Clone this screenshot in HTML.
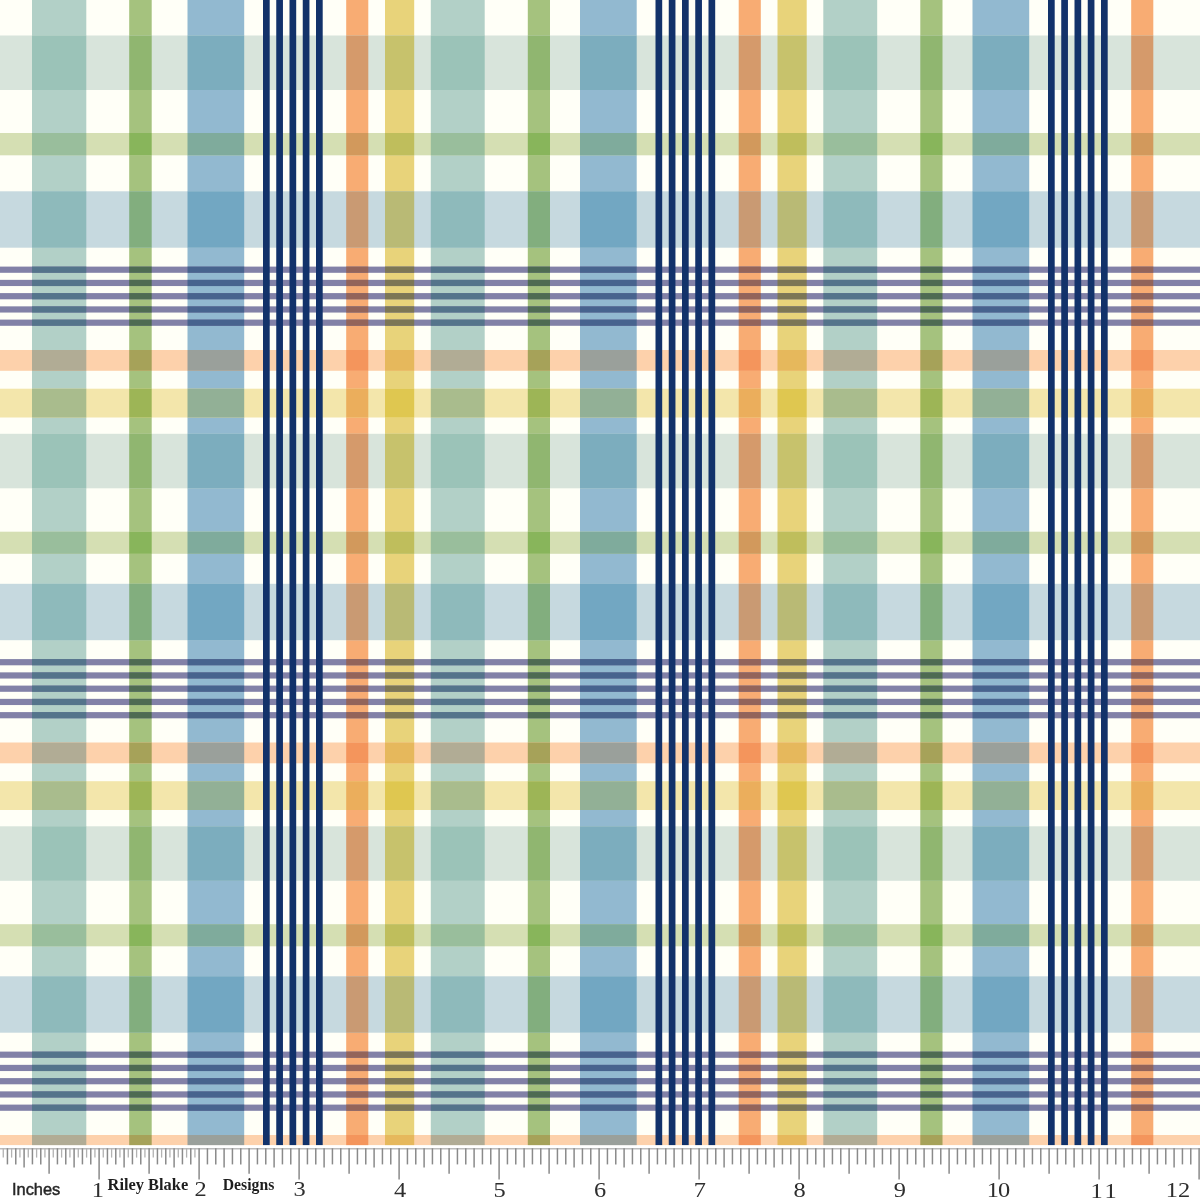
<!DOCTYPE html>
<html><head><meta charset="utf-8"><title>Riley Blake Designs plaid</title>
<style>
html,body{margin:0;padding:0;background:#fffff7;}
#f{position:relative;width:1200px;height:1200px;overflow:hidden;background:#fffff7;}
#f svg{position:absolute;left:0;top:0;display:block;}
</style></head><body><div id="f">
<svg width="1200" height="1200" viewBox="0 0 1200 1200">
<g id="warp">
<rect x="32.00" y="0" width="54.30" height="1145.3" fill="#B2D0C7"/>
<rect x="129.20" y="0" width="22.50" height="1145.3" fill="#A5C27E"/>
<rect x="187.50" y="0" width="56.70" height="1145.3" fill="#92B9D0"/>
<rect x="346.20" y="0" width="22.10" height="1145.3" fill="#F8AC73"/>
<rect x="385.00" y="0" width="29.20" height="1145.3" fill="#E8D37A"/>
<rect x="430.80" y="0" width="53.90" height="1145.3" fill="#B2D0C7"/>
<rect x="527.80" y="0" width="22.20" height="1145.3" fill="#A5C27E"/>
<rect x="580.00" y="0" width="56.70" height="1145.3" fill="#92B9D0"/>
<rect x="738.70" y="0" width="22.10" height="1145.3" fill="#F8AC73"/>
<rect x="777.50" y="0" width="29.20" height="1145.3" fill="#E8D37A"/>
<rect x="823.30" y="0" width="53.90" height="1145.3" fill="#B2D0C7"/>
<rect x="920.30" y="0" width="22.20" height="1145.3" fill="#A5C27E"/>
<rect x="972.50" y="0" width="56.70" height="1145.3" fill="#92B9D0"/>
<rect x="1131.20" y="0" width="22.10" height="1145.3" fill="#F8AC73"/>
</g>
<g id="weft">
<rect x="0" y="35.50" width="1200" height="54.50" fill="#D8E4DB"/><rect x="32.00" y="35.50" width="54.30" height="54.50" fill="#9BC3B8"/><rect x="129.20" y="35.50" width="22.50" height="54.50" fill="#90B670"/><rect x="187.50" y="35.50" width="56.70" height="54.50" fill="#7CADBE"/><rect x="346.20" y="35.50" width="22.10" height="54.50" fill="#D59A6B"/><rect x="385.00" y="35.50" width="29.20" height="54.50" fill="#C7C26C"/><rect x="430.80" y="35.50" width="53.90" height="54.50" fill="#9BC3B8"/><rect x="527.80" y="35.50" width="22.20" height="54.50" fill="#90B670"/><rect x="580.00" y="35.50" width="56.70" height="54.50" fill="#7CADBE"/><rect x="738.70" y="35.50" width="22.10" height="54.50" fill="#D59A6B"/><rect x="777.50" y="35.50" width="29.20" height="54.50" fill="#C7C26C"/><rect x="823.30" y="35.50" width="53.90" height="54.50" fill="#9BC3B8"/><rect x="920.30" y="35.50" width="22.20" height="54.50" fill="#90B670"/><rect x="972.50" y="35.50" width="56.70" height="54.50" fill="#7CADBE"/><rect x="1131.20" y="35.50" width="22.10" height="54.50" fill="#D59A6B"/>
<rect x="0" y="133.00" width="1200" height="22.30" fill="#D5DFB3"/><rect x="32.00" y="133.00" width="54.30" height="22.30" fill="#99BE9C"/><rect x="129.20" y="133.00" width="22.50" height="22.30" fill="#88B55B"/><rect x="187.50" y="133.00" width="56.70" height="22.30" fill="#7FAB9C"/><rect x="346.20" y="133.00" width="22.10" height="22.30" fill="#D2995C"/><rect x="385.00" y="133.00" width="29.20" height="22.30" fill="#BFBE5C"/><rect x="430.80" y="133.00" width="53.90" height="22.30" fill="#99BE9C"/><rect x="527.80" y="133.00" width="22.20" height="22.30" fill="#88B55B"/><rect x="580.00" y="133.00" width="56.70" height="22.30" fill="#7FAB9C"/><rect x="738.70" y="133.00" width="22.10" height="22.30" fill="#D2995C"/><rect x="777.50" y="133.00" width="29.20" height="22.30" fill="#BFBE5C"/><rect x="823.30" y="133.00" width="53.90" height="22.30" fill="#99BE9C"/><rect x="920.30" y="133.00" width="22.20" height="22.30" fill="#88B55B"/><rect x="972.50" y="133.00" width="56.70" height="22.30" fill="#7FAB9C"/><rect x="1131.20" y="133.00" width="22.10" height="22.30" fill="#D2995C"/>
<rect x="0" y="191.30" width="1200" height="56.40" fill="#C6D9DF"/><rect x="32.00" y="191.30" width="54.30" height="56.40" fill="#8EBABB"/><rect x="129.20" y="191.30" width="22.50" height="56.40" fill="#82AE7E"/><rect x="187.50" y="191.30" width="56.70" height="56.40" fill="#72A7C2"/><rect x="346.20" y="191.30" width="22.10" height="56.40" fill="#C99A73"/><rect x="385.00" y="191.30" width="29.20" height="56.40" fill="#B9BA75"/><rect x="430.80" y="191.30" width="53.90" height="56.40" fill="#8EBABB"/><rect x="527.80" y="191.30" width="22.20" height="56.40" fill="#82AE7E"/><rect x="580.00" y="191.30" width="56.70" height="56.40" fill="#72A7C2"/><rect x="738.70" y="191.30" width="22.10" height="56.40" fill="#C99A73"/><rect x="777.50" y="191.30" width="29.20" height="56.40" fill="#B9BA75"/><rect x="823.30" y="191.30" width="53.90" height="56.40" fill="#8EBABB"/><rect x="920.30" y="191.30" width="22.20" height="56.40" fill="#82AE7E"/><rect x="972.50" y="191.30" width="56.70" height="56.40" fill="#72A7C2"/><rect x="1131.20" y="191.30" width="22.10" height="56.40" fill="#C99A73"/>
<rect x="0" y="266.60" width="1200" height="6.20" fill="#8281A7"/><rect x="32.00" y="266.60" width="54.30" height="6.20" fill="#54748B"/><rect x="129.20" y="266.60" width="22.50" height="6.20" fill="#4E6B52"/><rect x="187.50" y="266.60" width="56.70" height="6.20" fill="#47638E"/><rect x="346.20" y="266.60" width="22.10" height="6.20" fill="#93645A"/><rect x="385.00" y="266.60" width="29.20" height="6.20" fill="#7C7655"/><rect x="430.80" y="266.60" width="53.90" height="6.20" fill="#54748B"/><rect x="527.80" y="266.60" width="22.20" height="6.20" fill="#4E6B52"/><rect x="580.00" y="266.60" width="56.70" height="6.20" fill="#47638E"/><rect x="738.70" y="266.60" width="22.10" height="6.20" fill="#93645A"/><rect x="777.50" y="266.60" width="29.20" height="6.20" fill="#7C7655"/><rect x="823.30" y="266.60" width="53.90" height="6.20" fill="#54748B"/><rect x="920.30" y="266.60" width="22.20" height="6.20" fill="#4E6B52"/><rect x="972.50" y="266.60" width="56.70" height="6.20" fill="#47638E"/><rect x="1131.20" y="266.60" width="22.10" height="6.20" fill="#93645A"/>
<rect x="0" y="279.85" width="1200" height="6.20" fill="#8281A7"/><rect x="32.00" y="279.85" width="54.30" height="6.20" fill="#54748B"/><rect x="129.20" y="279.85" width="22.50" height="6.20" fill="#4E6B52"/><rect x="187.50" y="279.85" width="56.70" height="6.20" fill="#47638E"/><rect x="346.20" y="279.85" width="22.10" height="6.20" fill="#93645A"/><rect x="385.00" y="279.85" width="29.20" height="6.20" fill="#7C7655"/><rect x="430.80" y="279.85" width="53.90" height="6.20" fill="#54748B"/><rect x="527.80" y="279.85" width="22.20" height="6.20" fill="#4E6B52"/><rect x="580.00" y="279.85" width="56.70" height="6.20" fill="#47638E"/><rect x="738.70" y="279.85" width="22.10" height="6.20" fill="#93645A"/><rect x="777.50" y="279.85" width="29.20" height="6.20" fill="#7C7655"/><rect x="823.30" y="279.85" width="53.90" height="6.20" fill="#54748B"/><rect x="920.30" y="279.85" width="22.20" height="6.20" fill="#4E6B52"/><rect x="972.50" y="279.85" width="56.70" height="6.20" fill="#47638E"/><rect x="1131.20" y="279.85" width="22.10" height="6.20" fill="#93645A"/>
<rect x="0" y="293.10" width="1200" height="6.20" fill="#8281A7"/><rect x="32.00" y="293.10" width="54.30" height="6.20" fill="#54748B"/><rect x="129.20" y="293.10" width="22.50" height="6.20" fill="#4E6B52"/><rect x="187.50" y="293.10" width="56.70" height="6.20" fill="#47638E"/><rect x="346.20" y="293.10" width="22.10" height="6.20" fill="#93645A"/><rect x="385.00" y="293.10" width="29.20" height="6.20" fill="#7C7655"/><rect x="430.80" y="293.10" width="53.90" height="6.20" fill="#54748B"/><rect x="527.80" y="293.10" width="22.20" height="6.20" fill="#4E6B52"/><rect x="580.00" y="293.10" width="56.70" height="6.20" fill="#47638E"/><rect x="738.70" y="293.10" width="22.10" height="6.20" fill="#93645A"/><rect x="777.50" y="293.10" width="29.20" height="6.20" fill="#7C7655"/><rect x="823.30" y="293.10" width="53.90" height="6.20" fill="#54748B"/><rect x="920.30" y="293.10" width="22.20" height="6.20" fill="#4E6B52"/><rect x="972.50" y="293.10" width="56.70" height="6.20" fill="#47638E"/><rect x="1131.20" y="293.10" width="22.10" height="6.20" fill="#93645A"/>
<rect x="0" y="306.35" width="1200" height="6.20" fill="#8281A7"/><rect x="32.00" y="306.35" width="54.30" height="6.20" fill="#54748B"/><rect x="129.20" y="306.35" width="22.50" height="6.20" fill="#4E6B52"/><rect x="187.50" y="306.35" width="56.70" height="6.20" fill="#47638E"/><rect x="346.20" y="306.35" width="22.10" height="6.20" fill="#93645A"/><rect x="385.00" y="306.35" width="29.20" height="6.20" fill="#7C7655"/><rect x="430.80" y="306.35" width="53.90" height="6.20" fill="#54748B"/><rect x="527.80" y="306.35" width="22.20" height="6.20" fill="#4E6B52"/><rect x="580.00" y="306.35" width="56.70" height="6.20" fill="#47638E"/><rect x="738.70" y="306.35" width="22.10" height="6.20" fill="#93645A"/><rect x="777.50" y="306.35" width="29.20" height="6.20" fill="#7C7655"/><rect x="823.30" y="306.35" width="53.90" height="6.20" fill="#54748B"/><rect x="920.30" y="306.35" width="22.20" height="6.20" fill="#4E6B52"/><rect x="972.50" y="306.35" width="56.70" height="6.20" fill="#47638E"/><rect x="1131.20" y="306.35" width="22.10" height="6.20" fill="#93645A"/>
<rect x="0" y="319.60" width="1200" height="6.20" fill="#8281A7"/><rect x="32.00" y="319.60" width="54.30" height="6.20" fill="#54748B"/><rect x="129.20" y="319.60" width="22.50" height="6.20" fill="#4E6B52"/><rect x="187.50" y="319.60" width="56.70" height="6.20" fill="#47638E"/><rect x="346.20" y="319.60" width="22.10" height="6.20" fill="#93645A"/><rect x="385.00" y="319.60" width="29.20" height="6.20" fill="#7C7655"/><rect x="430.80" y="319.60" width="53.90" height="6.20" fill="#54748B"/><rect x="527.80" y="319.60" width="22.20" height="6.20" fill="#4E6B52"/><rect x="580.00" y="319.60" width="56.70" height="6.20" fill="#47638E"/><rect x="738.70" y="319.60" width="22.10" height="6.20" fill="#93645A"/><rect x="777.50" y="319.60" width="29.20" height="6.20" fill="#7C7655"/><rect x="823.30" y="319.60" width="53.90" height="6.20" fill="#54748B"/><rect x="920.30" y="319.60" width="22.20" height="6.20" fill="#4E6B52"/><rect x="972.50" y="319.60" width="56.70" height="6.20" fill="#47638E"/><rect x="1131.20" y="319.60" width="22.10" height="6.20" fill="#93645A"/>
<rect x="0" y="350.00" width="1200" height="20.80" fill="#FDD1AB"/><rect x="32.00" y="350.00" width="54.30" height="20.80" fill="#B1AC95"/><rect x="129.20" y="350.00" width="22.50" height="20.80" fill="#A6A259"/><rect x="187.50" y="350.00" width="56.70" height="20.80" fill="#9AA09B"/><rect x="346.20" y="350.00" width="22.10" height="20.80" fill="#F4955C"/><rect x="385.00" y="350.00" width="29.20" height="20.80" fill="#E6B85C"/><rect x="430.80" y="350.00" width="53.90" height="20.80" fill="#B1AC95"/><rect x="527.80" y="350.00" width="22.20" height="20.80" fill="#A6A259"/><rect x="580.00" y="350.00" width="56.70" height="20.80" fill="#9AA09B"/><rect x="738.70" y="350.00" width="22.10" height="20.80" fill="#F4955C"/><rect x="777.50" y="350.00" width="29.20" height="20.80" fill="#E6B85C"/><rect x="823.30" y="350.00" width="53.90" height="20.80" fill="#B1AC95"/><rect x="920.30" y="350.00" width="22.20" height="20.80" fill="#A6A259"/><rect x="972.50" y="350.00" width="56.70" height="20.80" fill="#9AA09B"/><rect x="1131.20" y="350.00" width="22.10" height="20.80" fill="#F4955C"/>
<rect x="0" y="388.70" width="1200" height="28.80" fill="#F3E6AB"/><rect x="32.00" y="388.70" width="54.30" height="28.80" fill="#A9BC8D"/><rect x="129.20" y="388.70" width="22.50" height="28.80" fill="#9DB556"/><rect x="187.50" y="388.70" width="56.70" height="28.80" fill="#92B096"/><rect x="346.20" y="388.70" width="22.10" height="28.80" fill="#EBAE5C"/><rect x="385.00" y="388.70" width="29.20" height="28.80" fill="#DFC750"/><rect x="430.80" y="388.70" width="53.90" height="28.80" fill="#A9BC8D"/><rect x="527.80" y="388.70" width="22.20" height="28.80" fill="#9DB556"/><rect x="580.00" y="388.70" width="56.70" height="28.80" fill="#92B096"/><rect x="738.70" y="388.70" width="22.10" height="28.80" fill="#EBAE5C"/><rect x="777.50" y="388.70" width="29.20" height="28.80" fill="#DFC750"/><rect x="823.30" y="388.70" width="53.90" height="28.80" fill="#A9BC8D"/><rect x="920.30" y="388.70" width="22.20" height="28.80" fill="#9DB556"/><rect x="972.50" y="388.70" width="56.70" height="28.80" fill="#92B096"/><rect x="1131.20" y="388.70" width="22.10" height="28.80" fill="#EBAE5C"/>
<rect x="0" y="433.80" width="1200" height="54.50" fill="#D8E4DB"/><rect x="32.00" y="433.80" width="54.30" height="54.50" fill="#9BC3B8"/><rect x="129.20" y="433.80" width="22.50" height="54.50" fill="#90B670"/><rect x="187.50" y="433.80" width="56.70" height="54.50" fill="#7CADBE"/><rect x="346.20" y="433.80" width="22.10" height="54.50" fill="#D59A6B"/><rect x="385.00" y="433.80" width="29.20" height="54.50" fill="#C7C26C"/><rect x="430.80" y="433.80" width="53.90" height="54.50" fill="#9BC3B8"/><rect x="527.80" y="433.80" width="22.20" height="54.50" fill="#90B670"/><rect x="580.00" y="433.80" width="56.70" height="54.50" fill="#7CADBE"/><rect x="738.70" y="433.80" width="22.10" height="54.50" fill="#D59A6B"/><rect x="777.50" y="433.80" width="29.20" height="54.50" fill="#C7C26C"/><rect x="823.30" y="433.80" width="53.90" height="54.50" fill="#9BC3B8"/><rect x="920.30" y="433.80" width="22.20" height="54.50" fill="#90B670"/><rect x="972.50" y="433.80" width="56.70" height="54.50" fill="#7CADBE"/><rect x="1131.20" y="433.80" width="22.10" height="54.50" fill="#D59A6B"/>
<rect x="0" y="531.70" width="1200" height="22.10" fill="#D5DFB3"/><rect x="32.00" y="531.70" width="54.30" height="22.10" fill="#99BE9C"/><rect x="129.20" y="531.70" width="22.50" height="22.10" fill="#88B55B"/><rect x="187.50" y="531.70" width="56.70" height="22.10" fill="#7FAB9C"/><rect x="346.20" y="531.70" width="22.10" height="22.10" fill="#D2995C"/><rect x="385.00" y="531.70" width="29.20" height="22.10" fill="#BFBE5C"/><rect x="430.80" y="531.70" width="53.90" height="22.10" fill="#99BE9C"/><rect x="527.80" y="531.70" width="22.20" height="22.10" fill="#88B55B"/><rect x="580.00" y="531.70" width="56.70" height="22.10" fill="#7FAB9C"/><rect x="738.70" y="531.70" width="22.10" height="22.10" fill="#D2995C"/><rect x="777.50" y="531.70" width="29.20" height="22.10" fill="#BFBE5C"/><rect x="823.30" y="531.70" width="53.90" height="22.10" fill="#99BE9C"/><rect x="920.30" y="531.70" width="22.20" height="22.10" fill="#88B55B"/><rect x="972.50" y="531.70" width="56.70" height="22.10" fill="#7FAB9C"/><rect x="1131.20" y="531.70" width="22.10" height="22.10" fill="#D2995C"/>
<rect x="0" y="583.80" width="1200" height="56.40" fill="#C6D9DF"/><rect x="32.00" y="583.80" width="54.30" height="56.40" fill="#8EBABB"/><rect x="129.20" y="583.80" width="22.50" height="56.40" fill="#82AE7E"/><rect x="187.50" y="583.80" width="56.70" height="56.40" fill="#72A7C2"/><rect x="346.20" y="583.80" width="22.10" height="56.40" fill="#C99A73"/><rect x="385.00" y="583.80" width="29.20" height="56.40" fill="#B9BA75"/><rect x="430.80" y="583.80" width="53.90" height="56.40" fill="#8EBABB"/><rect x="527.80" y="583.80" width="22.20" height="56.40" fill="#82AE7E"/><rect x="580.00" y="583.80" width="56.70" height="56.40" fill="#72A7C2"/><rect x="738.70" y="583.80" width="22.10" height="56.40" fill="#C99A73"/><rect x="777.50" y="583.80" width="29.20" height="56.40" fill="#B9BA75"/><rect x="823.30" y="583.80" width="53.90" height="56.40" fill="#8EBABB"/><rect x="920.30" y="583.80" width="22.20" height="56.40" fill="#82AE7E"/><rect x="972.50" y="583.80" width="56.70" height="56.40" fill="#72A7C2"/><rect x="1131.20" y="583.80" width="22.10" height="56.40" fill="#C99A73"/>
<rect x="0" y="659.10" width="1200" height="6.20" fill="#8281A7"/><rect x="32.00" y="659.10" width="54.30" height="6.20" fill="#54748B"/><rect x="129.20" y="659.10" width="22.50" height="6.20" fill="#4E6B52"/><rect x="187.50" y="659.10" width="56.70" height="6.20" fill="#47638E"/><rect x="346.20" y="659.10" width="22.10" height="6.20" fill="#93645A"/><rect x="385.00" y="659.10" width="29.20" height="6.20" fill="#7C7655"/><rect x="430.80" y="659.10" width="53.90" height="6.20" fill="#54748B"/><rect x="527.80" y="659.10" width="22.20" height="6.20" fill="#4E6B52"/><rect x="580.00" y="659.10" width="56.70" height="6.20" fill="#47638E"/><rect x="738.70" y="659.10" width="22.10" height="6.20" fill="#93645A"/><rect x="777.50" y="659.10" width="29.20" height="6.20" fill="#7C7655"/><rect x="823.30" y="659.10" width="53.90" height="6.20" fill="#54748B"/><rect x="920.30" y="659.10" width="22.20" height="6.20" fill="#4E6B52"/><rect x="972.50" y="659.10" width="56.70" height="6.20" fill="#47638E"/><rect x="1131.20" y="659.10" width="22.10" height="6.20" fill="#93645A"/>
<rect x="0" y="672.35" width="1200" height="6.20" fill="#8281A7"/><rect x="32.00" y="672.35" width="54.30" height="6.20" fill="#54748B"/><rect x="129.20" y="672.35" width="22.50" height="6.20" fill="#4E6B52"/><rect x="187.50" y="672.35" width="56.70" height="6.20" fill="#47638E"/><rect x="346.20" y="672.35" width="22.10" height="6.20" fill="#93645A"/><rect x="385.00" y="672.35" width="29.20" height="6.20" fill="#7C7655"/><rect x="430.80" y="672.35" width="53.90" height="6.20" fill="#54748B"/><rect x="527.80" y="672.35" width="22.20" height="6.20" fill="#4E6B52"/><rect x="580.00" y="672.35" width="56.70" height="6.20" fill="#47638E"/><rect x="738.70" y="672.35" width="22.10" height="6.20" fill="#93645A"/><rect x="777.50" y="672.35" width="29.20" height="6.20" fill="#7C7655"/><rect x="823.30" y="672.35" width="53.90" height="6.20" fill="#54748B"/><rect x="920.30" y="672.35" width="22.20" height="6.20" fill="#4E6B52"/><rect x="972.50" y="672.35" width="56.70" height="6.20" fill="#47638E"/><rect x="1131.20" y="672.35" width="22.10" height="6.20" fill="#93645A"/>
<rect x="0" y="685.60" width="1200" height="6.20" fill="#8281A7"/><rect x="32.00" y="685.60" width="54.30" height="6.20" fill="#54748B"/><rect x="129.20" y="685.60" width="22.50" height="6.20" fill="#4E6B52"/><rect x="187.50" y="685.60" width="56.70" height="6.20" fill="#47638E"/><rect x="346.20" y="685.60" width="22.10" height="6.20" fill="#93645A"/><rect x="385.00" y="685.60" width="29.20" height="6.20" fill="#7C7655"/><rect x="430.80" y="685.60" width="53.90" height="6.20" fill="#54748B"/><rect x="527.80" y="685.60" width="22.20" height="6.20" fill="#4E6B52"/><rect x="580.00" y="685.60" width="56.70" height="6.20" fill="#47638E"/><rect x="738.70" y="685.60" width="22.10" height="6.20" fill="#93645A"/><rect x="777.50" y="685.60" width="29.20" height="6.20" fill="#7C7655"/><rect x="823.30" y="685.60" width="53.90" height="6.20" fill="#54748B"/><rect x="920.30" y="685.60" width="22.20" height="6.20" fill="#4E6B52"/><rect x="972.50" y="685.60" width="56.70" height="6.20" fill="#47638E"/><rect x="1131.20" y="685.60" width="22.10" height="6.20" fill="#93645A"/>
<rect x="0" y="698.85" width="1200" height="6.20" fill="#8281A7"/><rect x="32.00" y="698.85" width="54.30" height="6.20" fill="#54748B"/><rect x="129.20" y="698.85" width="22.50" height="6.20" fill="#4E6B52"/><rect x="187.50" y="698.85" width="56.70" height="6.20" fill="#47638E"/><rect x="346.20" y="698.85" width="22.10" height="6.20" fill="#93645A"/><rect x="385.00" y="698.85" width="29.20" height="6.20" fill="#7C7655"/><rect x="430.80" y="698.85" width="53.90" height="6.20" fill="#54748B"/><rect x="527.80" y="698.85" width="22.20" height="6.20" fill="#4E6B52"/><rect x="580.00" y="698.85" width="56.70" height="6.20" fill="#47638E"/><rect x="738.70" y="698.85" width="22.10" height="6.20" fill="#93645A"/><rect x="777.50" y="698.85" width="29.20" height="6.20" fill="#7C7655"/><rect x="823.30" y="698.85" width="53.90" height="6.20" fill="#54748B"/><rect x="920.30" y="698.85" width="22.20" height="6.20" fill="#4E6B52"/><rect x="972.50" y="698.85" width="56.70" height="6.20" fill="#47638E"/><rect x="1131.20" y="698.85" width="22.10" height="6.20" fill="#93645A"/>
<rect x="0" y="712.10" width="1200" height="6.20" fill="#8281A7"/><rect x="32.00" y="712.10" width="54.30" height="6.20" fill="#54748B"/><rect x="129.20" y="712.10" width="22.50" height="6.20" fill="#4E6B52"/><rect x="187.50" y="712.10" width="56.70" height="6.20" fill="#47638E"/><rect x="346.20" y="712.10" width="22.10" height="6.20" fill="#93645A"/><rect x="385.00" y="712.10" width="29.20" height="6.20" fill="#7C7655"/><rect x="430.80" y="712.10" width="53.90" height="6.20" fill="#54748B"/><rect x="527.80" y="712.10" width="22.20" height="6.20" fill="#4E6B52"/><rect x="580.00" y="712.10" width="56.70" height="6.20" fill="#47638E"/><rect x="738.70" y="712.10" width="22.10" height="6.20" fill="#93645A"/><rect x="777.50" y="712.10" width="29.20" height="6.20" fill="#7C7655"/><rect x="823.30" y="712.10" width="53.90" height="6.20" fill="#54748B"/><rect x="920.30" y="712.10" width="22.20" height="6.20" fill="#4E6B52"/><rect x="972.50" y="712.10" width="56.70" height="6.20" fill="#47638E"/><rect x="1131.20" y="712.10" width="22.10" height="6.20" fill="#93645A"/>
<rect x="0" y="742.50" width="1200" height="20.80" fill="#FDD1AB"/><rect x="32.00" y="742.50" width="54.30" height="20.80" fill="#B1AC95"/><rect x="129.20" y="742.50" width="22.50" height="20.80" fill="#A6A259"/><rect x="187.50" y="742.50" width="56.70" height="20.80" fill="#9AA09B"/><rect x="346.20" y="742.50" width="22.10" height="20.80" fill="#F4955C"/><rect x="385.00" y="742.50" width="29.20" height="20.80" fill="#E6B85C"/><rect x="430.80" y="742.50" width="53.90" height="20.80" fill="#B1AC95"/><rect x="527.80" y="742.50" width="22.20" height="20.80" fill="#A6A259"/><rect x="580.00" y="742.50" width="56.70" height="20.80" fill="#9AA09B"/><rect x="738.70" y="742.50" width="22.10" height="20.80" fill="#F4955C"/><rect x="777.50" y="742.50" width="29.20" height="20.80" fill="#E6B85C"/><rect x="823.30" y="742.50" width="53.90" height="20.80" fill="#B1AC95"/><rect x="920.30" y="742.50" width="22.20" height="20.80" fill="#A6A259"/><rect x="972.50" y="742.50" width="56.70" height="20.80" fill="#9AA09B"/><rect x="1131.20" y="742.50" width="22.10" height="20.80" fill="#F4955C"/>
<rect x="0" y="781.20" width="1200" height="28.80" fill="#F3E6AB"/><rect x="32.00" y="781.20" width="54.30" height="28.80" fill="#A9BC8D"/><rect x="129.20" y="781.20" width="22.50" height="28.80" fill="#9DB556"/><rect x="187.50" y="781.20" width="56.70" height="28.80" fill="#92B096"/><rect x="346.20" y="781.20" width="22.10" height="28.80" fill="#EBAE5C"/><rect x="385.00" y="781.20" width="29.20" height="28.80" fill="#DFC750"/><rect x="430.80" y="781.20" width="53.90" height="28.80" fill="#A9BC8D"/><rect x="527.80" y="781.20" width="22.20" height="28.80" fill="#9DB556"/><rect x="580.00" y="781.20" width="56.70" height="28.80" fill="#92B096"/><rect x="738.70" y="781.20" width="22.10" height="28.80" fill="#EBAE5C"/><rect x="777.50" y="781.20" width="29.20" height="28.80" fill="#DFC750"/><rect x="823.30" y="781.20" width="53.90" height="28.80" fill="#A9BC8D"/><rect x="920.30" y="781.20" width="22.20" height="28.80" fill="#9DB556"/><rect x="972.50" y="781.20" width="56.70" height="28.80" fill="#92B096"/><rect x="1131.20" y="781.20" width="22.10" height="28.80" fill="#EBAE5C"/>
<rect x="0" y="826.30" width="1200" height="54.50" fill="#D8E4DB"/><rect x="32.00" y="826.30" width="54.30" height="54.50" fill="#9BC3B8"/><rect x="129.20" y="826.30" width="22.50" height="54.50" fill="#90B670"/><rect x="187.50" y="826.30" width="56.70" height="54.50" fill="#7CADBE"/><rect x="346.20" y="826.30" width="22.10" height="54.50" fill="#D59A6B"/><rect x="385.00" y="826.30" width="29.20" height="54.50" fill="#C7C26C"/><rect x="430.80" y="826.30" width="53.90" height="54.50" fill="#9BC3B8"/><rect x="527.80" y="826.30" width="22.20" height="54.50" fill="#90B670"/><rect x="580.00" y="826.30" width="56.70" height="54.50" fill="#7CADBE"/><rect x="738.70" y="826.30" width="22.10" height="54.50" fill="#D59A6B"/><rect x="777.50" y="826.30" width="29.20" height="54.50" fill="#C7C26C"/><rect x="823.30" y="826.30" width="53.90" height="54.50" fill="#9BC3B8"/><rect x="920.30" y="826.30" width="22.20" height="54.50" fill="#90B670"/><rect x="972.50" y="826.30" width="56.70" height="54.50" fill="#7CADBE"/><rect x="1131.20" y="826.30" width="22.10" height="54.50" fill="#D59A6B"/>
<rect x="0" y="924.20" width="1200" height="22.10" fill="#D5DFB3"/><rect x="32.00" y="924.20" width="54.30" height="22.10" fill="#99BE9C"/><rect x="129.20" y="924.20" width="22.50" height="22.10" fill="#88B55B"/><rect x="187.50" y="924.20" width="56.70" height="22.10" fill="#7FAB9C"/><rect x="346.20" y="924.20" width="22.10" height="22.10" fill="#D2995C"/><rect x="385.00" y="924.20" width="29.20" height="22.10" fill="#BFBE5C"/><rect x="430.80" y="924.20" width="53.90" height="22.10" fill="#99BE9C"/><rect x="527.80" y="924.20" width="22.20" height="22.10" fill="#88B55B"/><rect x="580.00" y="924.20" width="56.70" height="22.10" fill="#7FAB9C"/><rect x="738.70" y="924.20" width="22.10" height="22.10" fill="#D2995C"/><rect x="777.50" y="924.20" width="29.20" height="22.10" fill="#BFBE5C"/><rect x="823.30" y="924.20" width="53.90" height="22.10" fill="#99BE9C"/><rect x="920.30" y="924.20" width="22.20" height="22.10" fill="#88B55B"/><rect x="972.50" y="924.20" width="56.70" height="22.10" fill="#7FAB9C"/><rect x="1131.20" y="924.20" width="22.10" height="22.10" fill="#D2995C"/>
<rect x="0" y="976.30" width="1200" height="56.40" fill="#C6D9DF"/><rect x="32.00" y="976.30" width="54.30" height="56.40" fill="#8EBABB"/><rect x="129.20" y="976.30" width="22.50" height="56.40" fill="#82AE7E"/><rect x="187.50" y="976.30" width="56.70" height="56.40" fill="#72A7C2"/><rect x="346.20" y="976.30" width="22.10" height="56.40" fill="#C99A73"/><rect x="385.00" y="976.30" width="29.20" height="56.40" fill="#B9BA75"/><rect x="430.80" y="976.30" width="53.90" height="56.40" fill="#8EBABB"/><rect x="527.80" y="976.30" width="22.20" height="56.40" fill="#82AE7E"/><rect x="580.00" y="976.30" width="56.70" height="56.40" fill="#72A7C2"/><rect x="738.70" y="976.30" width="22.10" height="56.40" fill="#C99A73"/><rect x="777.50" y="976.30" width="29.20" height="56.40" fill="#B9BA75"/><rect x="823.30" y="976.30" width="53.90" height="56.40" fill="#8EBABB"/><rect x="920.30" y="976.30" width="22.20" height="56.40" fill="#82AE7E"/><rect x="972.50" y="976.30" width="56.70" height="56.40" fill="#72A7C2"/><rect x="1131.20" y="976.30" width="22.10" height="56.40" fill="#C99A73"/>
<rect x="0" y="1051.60" width="1200" height="6.20" fill="#8281A7"/><rect x="32.00" y="1051.60" width="54.30" height="6.20" fill="#54748B"/><rect x="129.20" y="1051.60" width="22.50" height="6.20" fill="#4E6B52"/><rect x="187.50" y="1051.60" width="56.70" height="6.20" fill="#47638E"/><rect x="346.20" y="1051.60" width="22.10" height="6.20" fill="#93645A"/><rect x="385.00" y="1051.60" width="29.20" height="6.20" fill="#7C7655"/><rect x="430.80" y="1051.60" width="53.90" height="6.20" fill="#54748B"/><rect x="527.80" y="1051.60" width="22.20" height="6.20" fill="#4E6B52"/><rect x="580.00" y="1051.60" width="56.70" height="6.20" fill="#47638E"/><rect x="738.70" y="1051.60" width="22.10" height="6.20" fill="#93645A"/><rect x="777.50" y="1051.60" width="29.20" height="6.20" fill="#7C7655"/><rect x="823.30" y="1051.60" width="53.90" height="6.20" fill="#54748B"/><rect x="920.30" y="1051.60" width="22.20" height="6.20" fill="#4E6B52"/><rect x="972.50" y="1051.60" width="56.70" height="6.20" fill="#47638E"/><rect x="1131.20" y="1051.60" width="22.10" height="6.20" fill="#93645A"/>
<rect x="0" y="1064.85" width="1200" height="6.20" fill="#8281A7"/><rect x="32.00" y="1064.85" width="54.30" height="6.20" fill="#54748B"/><rect x="129.20" y="1064.85" width="22.50" height="6.20" fill="#4E6B52"/><rect x="187.50" y="1064.85" width="56.70" height="6.20" fill="#47638E"/><rect x="346.20" y="1064.85" width="22.10" height="6.20" fill="#93645A"/><rect x="385.00" y="1064.85" width="29.20" height="6.20" fill="#7C7655"/><rect x="430.80" y="1064.85" width="53.90" height="6.20" fill="#54748B"/><rect x="527.80" y="1064.85" width="22.20" height="6.20" fill="#4E6B52"/><rect x="580.00" y="1064.85" width="56.70" height="6.20" fill="#47638E"/><rect x="738.70" y="1064.85" width="22.10" height="6.20" fill="#93645A"/><rect x="777.50" y="1064.85" width="29.20" height="6.20" fill="#7C7655"/><rect x="823.30" y="1064.85" width="53.90" height="6.20" fill="#54748B"/><rect x="920.30" y="1064.85" width="22.20" height="6.20" fill="#4E6B52"/><rect x="972.50" y="1064.85" width="56.70" height="6.20" fill="#47638E"/><rect x="1131.20" y="1064.85" width="22.10" height="6.20" fill="#93645A"/>
<rect x="0" y="1078.10" width="1200" height="6.20" fill="#8281A7"/><rect x="32.00" y="1078.10" width="54.30" height="6.20" fill="#54748B"/><rect x="129.20" y="1078.10" width="22.50" height="6.20" fill="#4E6B52"/><rect x="187.50" y="1078.10" width="56.70" height="6.20" fill="#47638E"/><rect x="346.20" y="1078.10" width="22.10" height="6.20" fill="#93645A"/><rect x="385.00" y="1078.10" width="29.20" height="6.20" fill="#7C7655"/><rect x="430.80" y="1078.10" width="53.90" height="6.20" fill="#54748B"/><rect x="527.80" y="1078.10" width="22.20" height="6.20" fill="#4E6B52"/><rect x="580.00" y="1078.10" width="56.70" height="6.20" fill="#47638E"/><rect x="738.70" y="1078.10" width="22.10" height="6.20" fill="#93645A"/><rect x="777.50" y="1078.10" width="29.20" height="6.20" fill="#7C7655"/><rect x="823.30" y="1078.10" width="53.90" height="6.20" fill="#54748B"/><rect x="920.30" y="1078.10" width="22.20" height="6.20" fill="#4E6B52"/><rect x="972.50" y="1078.10" width="56.70" height="6.20" fill="#47638E"/><rect x="1131.20" y="1078.10" width="22.10" height="6.20" fill="#93645A"/>
<rect x="0" y="1091.35" width="1200" height="6.20" fill="#8281A7"/><rect x="32.00" y="1091.35" width="54.30" height="6.20" fill="#54748B"/><rect x="129.20" y="1091.35" width="22.50" height="6.20" fill="#4E6B52"/><rect x="187.50" y="1091.35" width="56.70" height="6.20" fill="#47638E"/><rect x="346.20" y="1091.35" width="22.10" height="6.20" fill="#93645A"/><rect x="385.00" y="1091.35" width="29.20" height="6.20" fill="#7C7655"/><rect x="430.80" y="1091.35" width="53.90" height="6.20" fill="#54748B"/><rect x="527.80" y="1091.35" width="22.20" height="6.20" fill="#4E6B52"/><rect x="580.00" y="1091.35" width="56.70" height="6.20" fill="#47638E"/><rect x="738.70" y="1091.35" width="22.10" height="6.20" fill="#93645A"/><rect x="777.50" y="1091.35" width="29.20" height="6.20" fill="#7C7655"/><rect x="823.30" y="1091.35" width="53.90" height="6.20" fill="#54748B"/><rect x="920.30" y="1091.35" width="22.20" height="6.20" fill="#4E6B52"/><rect x="972.50" y="1091.35" width="56.70" height="6.20" fill="#47638E"/><rect x="1131.20" y="1091.35" width="22.10" height="6.20" fill="#93645A"/>
<rect x="0" y="1104.60" width="1200" height="6.20" fill="#8281A7"/><rect x="32.00" y="1104.60" width="54.30" height="6.20" fill="#54748B"/><rect x="129.20" y="1104.60" width="22.50" height="6.20" fill="#4E6B52"/><rect x="187.50" y="1104.60" width="56.70" height="6.20" fill="#47638E"/><rect x="346.20" y="1104.60" width="22.10" height="6.20" fill="#93645A"/><rect x="385.00" y="1104.60" width="29.20" height="6.20" fill="#7C7655"/><rect x="430.80" y="1104.60" width="53.90" height="6.20" fill="#54748B"/><rect x="527.80" y="1104.60" width="22.20" height="6.20" fill="#4E6B52"/><rect x="580.00" y="1104.60" width="56.70" height="6.20" fill="#47638E"/><rect x="738.70" y="1104.60" width="22.10" height="6.20" fill="#93645A"/><rect x="777.50" y="1104.60" width="29.20" height="6.20" fill="#7C7655"/><rect x="823.30" y="1104.60" width="53.90" height="6.20" fill="#54748B"/><rect x="920.30" y="1104.60" width="22.20" height="6.20" fill="#4E6B52"/><rect x="972.50" y="1104.60" width="56.70" height="6.20" fill="#47638E"/><rect x="1131.20" y="1104.60" width="22.10" height="6.20" fill="#93645A"/>
<rect x="0" y="1135.00" width="1200" height="10.30" fill="#FDD1AB"/><rect x="32.00" y="1135.00" width="54.30" height="10.30" fill="#B1AC95"/><rect x="129.20" y="1135.00" width="22.50" height="10.30" fill="#A6A259"/><rect x="187.50" y="1135.00" width="56.70" height="10.30" fill="#9AA09B"/><rect x="346.20" y="1135.00" width="22.10" height="10.30" fill="#F4955C"/><rect x="385.00" y="1135.00" width="29.20" height="10.30" fill="#E6B85C"/><rect x="430.80" y="1135.00" width="53.90" height="10.30" fill="#B1AC95"/><rect x="527.80" y="1135.00" width="22.20" height="10.30" fill="#A6A259"/><rect x="580.00" y="1135.00" width="56.70" height="10.30" fill="#9AA09B"/><rect x="738.70" y="1135.00" width="22.10" height="10.30" fill="#F4955C"/><rect x="777.50" y="1135.00" width="29.20" height="10.30" fill="#E6B85C"/><rect x="823.30" y="1135.00" width="53.90" height="10.30" fill="#B1AC95"/><rect x="920.30" y="1135.00" width="22.20" height="10.30" fill="#A6A259"/><rect x="972.50" y="1135.00" width="56.70" height="10.30" fill="#9AA09B"/><rect x="1131.20" y="1135.00" width="22.10" height="10.30" fill="#F4955C"/>
</g>
<g id="navy" fill="#12326A">
<rect x="263.00" y="0" width="6.70" height="1145.3"/>
<rect x="276.25" y="0" width="6.70" height="1145.3"/>
<rect x="289.50" y="0" width="6.70" height="1145.3"/>
<rect x="302.75" y="0" width="6.70" height="1145.3"/>
<rect x="316.00" y="0" width="6.70" height="1145.3"/>
<rect x="655.50" y="0" width="6.70" height="1145.3"/>
<rect x="668.75" y="0" width="6.70" height="1145.3"/>
<rect x="682.00" y="0" width="6.70" height="1145.3"/>
<rect x="695.25" y="0" width="6.70" height="1145.3"/>
<rect x="708.50" y="0" width="6.70" height="1145.3"/>
<rect x="1048.00" y="0" width="6.70" height="1145.3"/>
<rect x="1061.25" y="0" width="6.70" height="1145.3"/>
<rect x="1074.50" y="0" width="6.70" height="1145.3"/>
<rect x="1087.75" y="0" width="6.70" height="1145.3"/>
<rect x="1101.00" y="0" width="6.70" height="1145.3"/>
</g>
<g id="ruler">
<rect x="0" y="1145.3" width="1200" height="54.7" fill="#fff"/>
<rect x="0" y="1148.2" width="1200" height="1.2" fill="#ababab"/>
<line x1="7.43" x2="7.43" y1="1148.3" y2="1164.4" stroke="#8a8a8a" stroke-width="1.5"/>
<line x1="15.77" x2="15.77" y1="1148.3" y2="1164.4" stroke="#8a8a8a" stroke-width="1.5"/>
<line x1="24.10" x2="24.10" y1="1148.3" y2="1167.4" stroke="#8a8a8a" stroke-width="1.5"/>
<line x1="32.43" x2="32.43" y1="1148.3" y2="1164.4" stroke="#8a8a8a" stroke-width="1.5"/>
<line x1="40.77" x2="40.77" y1="1148.3" y2="1164.4" stroke="#8a8a8a" stroke-width="1.5"/>
<line x1="49.10" x2="49.10" y1="1148.3" y2="1173.8" stroke="#8a8a8a" stroke-width="1.5"/>
<line x1="57.43" x2="57.43" y1="1148.3" y2="1164.4" stroke="#8a8a8a" stroke-width="1.5"/>
<line x1="65.77" x2="65.77" y1="1148.3" y2="1164.4" stroke="#8a8a8a" stroke-width="1.5"/>
<line x1="74.10" x2="74.10" y1="1148.3" y2="1167.4" stroke="#8a8a8a" stroke-width="1.5"/>
<line x1="82.43" x2="82.43" y1="1148.3" y2="1164.4" stroke="#8a8a8a" stroke-width="1.5"/>
<line x1="90.77" x2="90.77" y1="1148.3" y2="1164.4" stroke="#8a8a8a" stroke-width="1.5"/>
<line x1="99.10" x2="99.10" y1="1148.3" y2="1179.5" stroke="#8a8a8a" stroke-width="1.5"/>
<line x1="107.43" x2="107.43" y1="1148.3" y2="1164.4" stroke="#8a8a8a" stroke-width="1.5"/>
<line x1="115.77" x2="115.77" y1="1148.3" y2="1164.4" stroke="#8a8a8a" stroke-width="1.5"/>
<line x1="124.10" x2="124.10" y1="1148.3" y2="1167.4" stroke="#8a8a8a" stroke-width="1.5"/>
<line x1="132.43" x2="132.43" y1="1148.3" y2="1164.4" stroke="#8a8a8a" stroke-width="1.5"/>
<line x1="140.77" x2="140.77" y1="1148.3" y2="1164.4" stroke="#8a8a8a" stroke-width="1.5"/>
<line x1="149.10" x2="149.10" y1="1148.3" y2="1173.8" stroke="#8a8a8a" stroke-width="1.5"/>
<line x1="157.43" x2="157.43" y1="1148.3" y2="1164.4" stroke="#8a8a8a" stroke-width="1.5"/>
<line x1="165.77" x2="165.77" y1="1148.3" y2="1164.4" stroke="#8a8a8a" stroke-width="1.5"/>
<line x1="174.10" x2="174.10" y1="1148.3" y2="1167.4" stroke="#8a8a8a" stroke-width="1.5"/>
<line x1="182.43" x2="182.43" y1="1148.3" y2="1164.4" stroke="#8a8a8a" stroke-width="1.5"/>
<line x1="190.77" x2="190.77" y1="1148.3" y2="1164.4" stroke="#8a8a8a" stroke-width="1.5"/>
<line x1="199.10" x2="199.10" y1="1148.3" y2="1179.5" stroke="#8a8a8a" stroke-width="1.5"/>
<line x1="207.43" x2="207.43" y1="1148.3" y2="1164.4" stroke="#8a8a8a" stroke-width="1.5"/>
<line x1="215.77" x2="215.77" y1="1148.3" y2="1164.4" stroke="#8a8a8a" stroke-width="1.5"/>
<line x1="224.10" x2="224.10" y1="1148.3" y2="1167.4" stroke="#8a8a8a" stroke-width="1.5"/>
<line x1="232.43" x2="232.43" y1="1148.3" y2="1164.4" stroke="#8a8a8a" stroke-width="1.5"/>
<line x1="240.77" x2="240.77" y1="1148.3" y2="1164.4" stroke="#8a8a8a" stroke-width="1.5"/>
<line x1="249.10" x2="249.10" y1="1148.3" y2="1173.8" stroke="#8a8a8a" stroke-width="1.5"/>
<line x1="257.43" x2="257.43" y1="1148.3" y2="1164.4" stroke="#8a8a8a" stroke-width="1.5"/>
<line x1="265.77" x2="265.77" y1="1148.3" y2="1164.4" stroke="#8a8a8a" stroke-width="1.5"/>
<line x1="274.10" x2="274.10" y1="1148.3" y2="1167.4" stroke="#8a8a8a" stroke-width="1.5"/>
<line x1="282.43" x2="282.43" y1="1148.3" y2="1164.4" stroke="#8a8a8a" stroke-width="1.5"/>
<line x1="290.77" x2="290.77" y1="1148.3" y2="1164.4" stroke="#8a8a8a" stroke-width="1.5"/>
<line x1="299.10" x2="299.10" y1="1148.3" y2="1179.5" stroke="#8a8a8a" stroke-width="1.5"/>
<line x1="307.43" x2="307.43" y1="1148.3" y2="1164.4" stroke="#8a8a8a" stroke-width="1.5"/>
<line x1="315.77" x2="315.77" y1="1148.3" y2="1164.4" stroke="#8a8a8a" stroke-width="1.5"/>
<line x1="324.10" x2="324.10" y1="1148.3" y2="1167.4" stroke="#8a8a8a" stroke-width="1.5"/>
<line x1="332.43" x2="332.43" y1="1148.3" y2="1164.4" stroke="#8a8a8a" stroke-width="1.5"/>
<line x1="340.77" x2="340.77" y1="1148.3" y2="1164.4" stroke="#8a8a8a" stroke-width="1.5"/>
<line x1="349.10" x2="349.10" y1="1148.3" y2="1173.8" stroke="#8a8a8a" stroke-width="1.5"/>
<line x1="357.43" x2="357.43" y1="1148.3" y2="1164.4" stroke="#8a8a8a" stroke-width="1.5"/>
<line x1="365.77" x2="365.77" y1="1148.3" y2="1164.4" stroke="#8a8a8a" stroke-width="1.5"/>
<line x1="374.10" x2="374.10" y1="1148.3" y2="1167.4" stroke="#8a8a8a" stroke-width="1.5"/>
<line x1="382.43" x2="382.43" y1="1148.3" y2="1164.4" stroke="#8a8a8a" stroke-width="1.5"/>
<line x1="390.77" x2="390.77" y1="1148.3" y2="1164.4" stroke="#8a8a8a" stroke-width="1.5"/>
<line x1="399.10" x2="399.10" y1="1148.3" y2="1179.5" stroke="#8a8a8a" stroke-width="1.5"/>
<line x1="407.43" x2="407.43" y1="1148.3" y2="1164.4" stroke="#8a8a8a" stroke-width="1.5"/>
<line x1="415.77" x2="415.77" y1="1148.3" y2="1164.4" stroke="#8a8a8a" stroke-width="1.5"/>
<line x1="424.10" x2="424.10" y1="1148.3" y2="1167.4" stroke="#8a8a8a" stroke-width="1.5"/>
<line x1="432.43" x2="432.43" y1="1148.3" y2="1164.4" stroke="#8a8a8a" stroke-width="1.5"/>
<line x1="440.77" x2="440.77" y1="1148.3" y2="1164.4" stroke="#8a8a8a" stroke-width="1.5"/>
<line x1="449.10" x2="449.10" y1="1148.3" y2="1173.8" stroke="#8a8a8a" stroke-width="1.5"/>
<line x1="457.43" x2="457.43" y1="1148.3" y2="1164.4" stroke="#8a8a8a" stroke-width="1.5"/>
<line x1="465.77" x2="465.77" y1="1148.3" y2="1164.4" stroke="#8a8a8a" stroke-width="1.5"/>
<line x1="474.10" x2="474.10" y1="1148.3" y2="1167.4" stroke="#8a8a8a" stroke-width="1.5"/>
<line x1="482.43" x2="482.43" y1="1148.3" y2="1164.4" stroke="#8a8a8a" stroke-width="1.5"/>
<line x1="490.77" x2="490.77" y1="1148.3" y2="1164.4" stroke="#8a8a8a" stroke-width="1.5"/>
<line x1="499.10" x2="499.10" y1="1148.3" y2="1179.5" stroke="#8a8a8a" stroke-width="1.5"/>
<line x1="507.43" x2="507.43" y1="1148.3" y2="1164.4" stroke="#8a8a8a" stroke-width="1.5"/>
<line x1="515.77" x2="515.77" y1="1148.3" y2="1164.4" stroke="#8a8a8a" stroke-width="1.5"/>
<line x1="524.10" x2="524.10" y1="1148.3" y2="1167.4" stroke="#8a8a8a" stroke-width="1.5"/>
<line x1="532.43" x2="532.43" y1="1148.3" y2="1164.4" stroke="#8a8a8a" stroke-width="1.5"/>
<line x1="540.77" x2="540.77" y1="1148.3" y2="1164.4" stroke="#8a8a8a" stroke-width="1.5"/>
<line x1="549.10" x2="549.10" y1="1148.3" y2="1173.8" stroke="#8a8a8a" stroke-width="1.5"/>
<line x1="557.43" x2="557.43" y1="1148.3" y2="1164.4" stroke="#8a8a8a" stroke-width="1.5"/>
<line x1="565.77" x2="565.77" y1="1148.3" y2="1164.4" stroke="#8a8a8a" stroke-width="1.5"/>
<line x1="574.10" x2="574.10" y1="1148.3" y2="1167.4" stroke="#8a8a8a" stroke-width="1.5"/>
<line x1="582.43" x2="582.43" y1="1148.3" y2="1164.4" stroke="#8a8a8a" stroke-width="1.5"/>
<line x1="590.77" x2="590.77" y1="1148.3" y2="1164.4" stroke="#8a8a8a" stroke-width="1.5"/>
<line x1="599.10" x2="599.10" y1="1148.3" y2="1179.5" stroke="#8a8a8a" stroke-width="1.5"/>
<line x1="607.43" x2="607.43" y1="1148.3" y2="1164.4" stroke="#8a8a8a" stroke-width="1.5"/>
<line x1="615.77" x2="615.77" y1="1148.3" y2="1164.4" stroke="#8a8a8a" stroke-width="1.5"/>
<line x1="624.10" x2="624.10" y1="1148.3" y2="1167.4" stroke="#8a8a8a" stroke-width="1.5"/>
<line x1="632.43" x2="632.43" y1="1148.3" y2="1164.4" stroke="#8a8a8a" stroke-width="1.5"/>
<line x1="640.77" x2="640.77" y1="1148.3" y2="1164.4" stroke="#8a8a8a" stroke-width="1.5"/>
<line x1="649.10" x2="649.10" y1="1148.3" y2="1173.8" stroke="#8a8a8a" stroke-width="1.5"/>
<line x1="657.43" x2="657.43" y1="1148.3" y2="1164.4" stroke="#8a8a8a" stroke-width="1.5"/>
<line x1="665.77" x2="665.77" y1="1148.3" y2="1164.4" stroke="#8a8a8a" stroke-width="1.5"/>
<line x1="674.10" x2="674.10" y1="1148.3" y2="1167.4" stroke="#8a8a8a" stroke-width="1.5"/>
<line x1="682.43" x2="682.43" y1="1148.3" y2="1164.4" stroke="#8a8a8a" stroke-width="1.5"/>
<line x1="690.77" x2="690.77" y1="1148.3" y2="1164.4" stroke="#8a8a8a" stroke-width="1.5"/>
<line x1="699.10" x2="699.10" y1="1148.3" y2="1179.5" stroke="#8a8a8a" stroke-width="1.5"/>
<line x1="707.43" x2="707.43" y1="1148.3" y2="1164.4" stroke="#8a8a8a" stroke-width="1.5"/>
<line x1="715.77" x2="715.77" y1="1148.3" y2="1164.4" stroke="#8a8a8a" stroke-width="1.5"/>
<line x1="724.10" x2="724.10" y1="1148.3" y2="1167.4" stroke="#8a8a8a" stroke-width="1.5"/>
<line x1="732.43" x2="732.43" y1="1148.3" y2="1164.4" stroke="#8a8a8a" stroke-width="1.5"/>
<line x1="740.77" x2="740.77" y1="1148.3" y2="1164.4" stroke="#8a8a8a" stroke-width="1.5"/>
<line x1="749.10" x2="749.10" y1="1148.3" y2="1173.8" stroke="#8a8a8a" stroke-width="1.5"/>
<line x1="757.43" x2="757.43" y1="1148.3" y2="1164.4" stroke="#8a8a8a" stroke-width="1.5"/>
<line x1="765.77" x2="765.77" y1="1148.3" y2="1164.4" stroke="#8a8a8a" stroke-width="1.5"/>
<line x1="774.10" x2="774.10" y1="1148.3" y2="1167.4" stroke="#8a8a8a" stroke-width="1.5"/>
<line x1="782.43" x2="782.43" y1="1148.3" y2="1164.4" stroke="#8a8a8a" stroke-width="1.5"/>
<line x1="790.77" x2="790.77" y1="1148.3" y2="1164.4" stroke="#8a8a8a" stroke-width="1.5"/>
<line x1="799.10" x2="799.10" y1="1148.3" y2="1179.5" stroke="#8a8a8a" stroke-width="1.5"/>
<line x1="807.43" x2="807.43" y1="1148.3" y2="1164.4" stroke="#8a8a8a" stroke-width="1.5"/>
<line x1="815.77" x2="815.77" y1="1148.3" y2="1164.4" stroke="#8a8a8a" stroke-width="1.5"/>
<line x1="824.10" x2="824.10" y1="1148.3" y2="1167.4" stroke="#8a8a8a" stroke-width="1.5"/>
<line x1="832.43" x2="832.43" y1="1148.3" y2="1164.4" stroke="#8a8a8a" stroke-width="1.5"/>
<line x1="840.77" x2="840.77" y1="1148.3" y2="1164.4" stroke="#8a8a8a" stroke-width="1.5"/>
<line x1="849.10" x2="849.10" y1="1148.3" y2="1173.8" stroke="#8a8a8a" stroke-width="1.5"/>
<line x1="857.43" x2="857.43" y1="1148.3" y2="1164.4" stroke="#8a8a8a" stroke-width="1.5"/>
<line x1="865.77" x2="865.77" y1="1148.3" y2="1164.4" stroke="#8a8a8a" stroke-width="1.5"/>
<line x1="874.10" x2="874.10" y1="1148.3" y2="1167.4" stroke="#8a8a8a" stroke-width="1.5"/>
<line x1="882.43" x2="882.43" y1="1148.3" y2="1164.4" stroke="#8a8a8a" stroke-width="1.5"/>
<line x1="890.77" x2="890.77" y1="1148.3" y2="1164.4" stroke="#8a8a8a" stroke-width="1.5"/>
<line x1="899.10" x2="899.10" y1="1148.3" y2="1179.5" stroke="#8a8a8a" stroke-width="1.5"/>
<line x1="907.43" x2="907.43" y1="1148.3" y2="1164.4" stroke="#8a8a8a" stroke-width="1.5"/>
<line x1="915.77" x2="915.77" y1="1148.3" y2="1164.4" stroke="#8a8a8a" stroke-width="1.5"/>
<line x1="924.10" x2="924.10" y1="1148.3" y2="1167.4" stroke="#8a8a8a" stroke-width="1.5"/>
<line x1="932.43" x2="932.43" y1="1148.3" y2="1164.4" stroke="#8a8a8a" stroke-width="1.5"/>
<line x1="940.77" x2="940.77" y1="1148.3" y2="1164.4" stroke="#8a8a8a" stroke-width="1.5"/>
<line x1="949.10" x2="949.10" y1="1148.3" y2="1173.8" stroke="#8a8a8a" stroke-width="1.5"/>
<line x1="957.43" x2="957.43" y1="1148.3" y2="1164.4" stroke="#8a8a8a" stroke-width="1.5"/>
<line x1="965.77" x2="965.77" y1="1148.3" y2="1164.4" stroke="#8a8a8a" stroke-width="1.5"/>
<line x1="974.10" x2="974.10" y1="1148.3" y2="1167.4" stroke="#8a8a8a" stroke-width="1.5"/>
<line x1="982.43" x2="982.43" y1="1148.3" y2="1164.4" stroke="#8a8a8a" stroke-width="1.5"/>
<line x1="990.77" x2="990.77" y1="1148.3" y2="1164.4" stroke="#8a8a8a" stroke-width="1.5"/>
<line x1="999.10" x2="999.10" y1="1148.3" y2="1179.5" stroke="#8a8a8a" stroke-width="1.5"/>
<line x1="1007.43" x2="1007.43" y1="1148.3" y2="1164.4" stroke="#8a8a8a" stroke-width="1.5"/>
<line x1="1015.77" x2="1015.77" y1="1148.3" y2="1164.4" stroke="#8a8a8a" stroke-width="1.5"/>
<line x1="1024.10" x2="1024.10" y1="1148.3" y2="1167.4" stroke="#8a8a8a" stroke-width="1.5"/>
<line x1="1032.43" x2="1032.43" y1="1148.3" y2="1164.4" stroke="#8a8a8a" stroke-width="1.5"/>
<line x1="1040.77" x2="1040.77" y1="1148.3" y2="1164.4" stroke="#8a8a8a" stroke-width="1.5"/>
<line x1="1049.10" x2="1049.10" y1="1148.3" y2="1173.8" stroke="#8a8a8a" stroke-width="1.5"/>
<line x1="1057.43" x2="1057.43" y1="1148.3" y2="1164.4" stroke="#8a8a8a" stroke-width="1.5"/>
<line x1="1065.77" x2="1065.77" y1="1148.3" y2="1164.4" stroke="#8a8a8a" stroke-width="1.5"/>
<line x1="1074.10" x2="1074.10" y1="1148.3" y2="1167.4" stroke="#8a8a8a" stroke-width="1.5"/>
<line x1="1082.43" x2="1082.43" y1="1148.3" y2="1164.4" stroke="#8a8a8a" stroke-width="1.5"/>
<line x1="1090.77" x2="1090.77" y1="1148.3" y2="1164.4" stroke="#8a8a8a" stroke-width="1.5"/>
<line x1="1099.10" x2="1099.10" y1="1148.3" y2="1179.5" stroke="#8a8a8a" stroke-width="1.5"/>
<line x1="1107.43" x2="1107.43" y1="1148.3" y2="1164.4" stroke="#8a8a8a" stroke-width="1.5"/>
<line x1="1115.77" x2="1115.77" y1="1148.3" y2="1164.4" stroke="#8a8a8a" stroke-width="1.5"/>
<line x1="1124.10" x2="1124.10" y1="1148.3" y2="1167.4" stroke="#8a8a8a" stroke-width="1.5"/>
<line x1="1132.43" x2="1132.43" y1="1148.3" y2="1164.4" stroke="#8a8a8a" stroke-width="1.5"/>
<line x1="1140.77" x2="1140.77" y1="1148.3" y2="1164.4" stroke="#8a8a8a" stroke-width="1.5"/>
<line x1="1149.10" x2="1149.10" y1="1148.3" y2="1173.8" stroke="#8a8a8a" stroke-width="1.5"/>
<line x1="1157.43" x2="1157.43" y1="1148.3" y2="1164.4" stroke="#8a8a8a" stroke-width="1.5"/>
<line x1="1165.77" x2="1165.77" y1="1148.3" y2="1164.4" stroke="#8a8a8a" stroke-width="1.5"/>
<line x1="1174.10" x2="1174.10" y1="1148.3" y2="1167.4" stroke="#8a8a8a" stroke-width="1.5"/>
<line x1="1182.43" x2="1182.43" y1="1148.3" y2="1164.4" stroke="#8a8a8a" stroke-width="1.5"/>
<line x1="1190.77" x2="1190.77" y1="1148.3" y2="1164.4" stroke="#8a8a8a" stroke-width="1.5"/>
<line x1="1199.10" x2="1199.10" y1="1148.3" y2="1179.5" stroke="#8a8a8a" stroke-width="1.5"/>
<line x1="3.27" x2="3.27" y1="1148.3" y2="1157.6" stroke="#b2b2b2" stroke-width="1.3"/>
<line x1="11.60" x2="11.60" y1="1148.3" y2="1157.6" stroke="#b2b2b2" stroke-width="1.3"/>
<line x1="19.93" x2="19.93" y1="1148.3" y2="1157.6" stroke="#b2b2b2" stroke-width="1.3"/>
<line x1="28.27" x2="28.27" y1="1148.3" y2="1157.6" stroke="#b2b2b2" stroke-width="1.3"/>
<line x1="36.60" x2="36.60" y1="1148.3" y2="1157.6" stroke="#b2b2b2" stroke-width="1.3"/>
<line x1="44.93" x2="44.93" y1="1148.3" y2="1157.6" stroke="#b2b2b2" stroke-width="1.3"/>
<line x1="53.27" x2="53.27" y1="1148.3" y2="1157.6" stroke="#b2b2b2" stroke-width="1.3"/>
<line x1="61.60" x2="61.60" y1="1148.3" y2="1157.6" stroke="#b2b2b2" stroke-width="1.3"/>
<line x1="69.93" x2="69.93" y1="1148.3" y2="1157.6" stroke="#b2b2b2" stroke-width="1.3"/>
<line x1="78.27" x2="78.27" y1="1148.3" y2="1157.6" stroke="#b2b2b2" stroke-width="1.3"/>
<line x1="86.60" x2="86.60" y1="1148.3" y2="1157.6" stroke="#b2b2b2" stroke-width="1.3"/>
<line x1="94.93" x2="94.93" y1="1148.3" y2="1157.6" stroke="#b2b2b2" stroke-width="1.3"/>
<line x1="103.27" x2="103.27" y1="1148.3" y2="1157.6" stroke="#b2b2b2" stroke-width="1.3"/>
<line x1="111.60" x2="111.60" y1="1148.3" y2="1157.6" stroke="#b2b2b2" stroke-width="1.3"/>
<line x1="119.93" x2="119.93" y1="1148.3" y2="1157.6" stroke="#b2b2b2" stroke-width="1.3"/>
<line x1="128.27" x2="128.27" y1="1148.3" y2="1157.6" stroke="#b2b2b2" stroke-width="1.3"/>
<line x1="136.60" x2="136.60" y1="1148.3" y2="1157.6" stroke="#b2b2b2" stroke-width="1.3"/>
<line x1="144.93" x2="144.93" y1="1148.3" y2="1157.6" stroke="#b2b2b2" stroke-width="1.3"/>
<line x1="153.27" x2="153.27" y1="1148.3" y2="1157.6" stroke="#b2b2b2" stroke-width="1.3"/>
<line x1="161.60" x2="161.60" y1="1148.3" y2="1157.6" stroke="#b2b2b2" stroke-width="1.3"/>
<line x1="169.93" x2="169.93" y1="1148.3" y2="1157.6" stroke="#b2b2b2" stroke-width="1.3"/>
<line x1="178.27" x2="178.27" y1="1148.3" y2="1157.6" stroke="#b2b2b2" stroke-width="1.3"/>
<line x1="186.60" x2="186.60" y1="1148.3" y2="1157.6" stroke="#b2b2b2" stroke-width="1.3"/>
<line x1="194.93" x2="194.93" y1="1148.3" y2="1157.6" stroke="#b2b2b2" stroke-width="1.3"/>
<text x="12" y="1194.5" font-family="Liberation Sans, Arial, sans-serif" font-size="16.4" fill="#262626" stroke="#262626" stroke-width="0.45">Inches</text>
<text x="107.6" y="1189.6" font-family="Liberation Serif, serif" font-weight="bold" font-size="16.2" fill="#1e1e1e" textLength="80.6" lengthAdjust="spacingAndGlyphs">Riley Blake</text>
<text x="222.7" y="1189.6" font-family="Liberation Serif, serif" font-weight="bold" font-size="16.2" fill="#1e1e1e" textLength="51.6" lengthAdjust="spacingAndGlyphs">Designs</text>
<text transform="scale(1.22 1)" x="80.16" y="1196.8" text-anchor="middle" font-family="Liberation Serif, serif" font-size="20" fill="#2e2e2e">1</text>
<text transform="scale(1.22 1)" x="164.43" y="1195.8" text-anchor="middle" font-family="Liberation Serif, serif" font-size="20" fill="#2e2e2e">2</text>
<text transform="scale(1.22 1)" x="245.57" y="1196.5" text-anchor="middle" font-family="Liberation Serif, serif" font-size="20" fill="#2e2e2e">3</text>
<text transform="scale(1.22 1)" x="327.87" y="1196.8" text-anchor="middle" font-family="Liberation Serif, serif" font-size="20" fill="#2e2e2e">4</text>
<text transform="scale(1.22 1)" x="409.59" y="1196.8" text-anchor="middle" font-family="Liberation Serif, serif" font-size="20" fill="#2e2e2e">5</text>
<text transform="scale(1.22 1)" x="491.80" y="1196.8" text-anchor="middle" font-family="Liberation Serif, serif" font-size="20" fill="#2e2e2e">6</text>
<text transform="scale(1.22 1)" x="573.61" y="1196.8" text-anchor="middle" font-family="Liberation Serif, serif" font-size="20" fill="#2e2e2e">7</text>
<text transform="scale(1.22 1)" x="655.33" y="1196.8" text-anchor="middle" font-family="Liberation Serif, serif" font-size="20" fill="#2e2e2e">8</text>
<text transform="scale(1.22 1)" x="737.54" y="1196.8" text-anchor="middle" font-family="Liberation Serif, serif" font-size="20" fill="#2e2e2e">9</text>
<text transform="scale(1.22 1)" x="813.77 823.11" y="1197.0" text-anchor="middle" font-family="Liberation Serif, serif" font-size="20" fill="#2e2e2e">10</text>
<text transform="scale(1.22 1)" x="898.77 910.25" y="1198.3" text-anchor="middle" font-family="Liberation Serif, serif" font-size="20" fill="#2e2e2e">11</text>
<text transform="scale(1.22 1)" x="960.49 970.49" y="1197.0" text-anchor="middle" font-family="Liberation Serif, serif" font-size="20" fill="#2e2e2e">12</text>
</g>
</svg>
</div></body></html>
